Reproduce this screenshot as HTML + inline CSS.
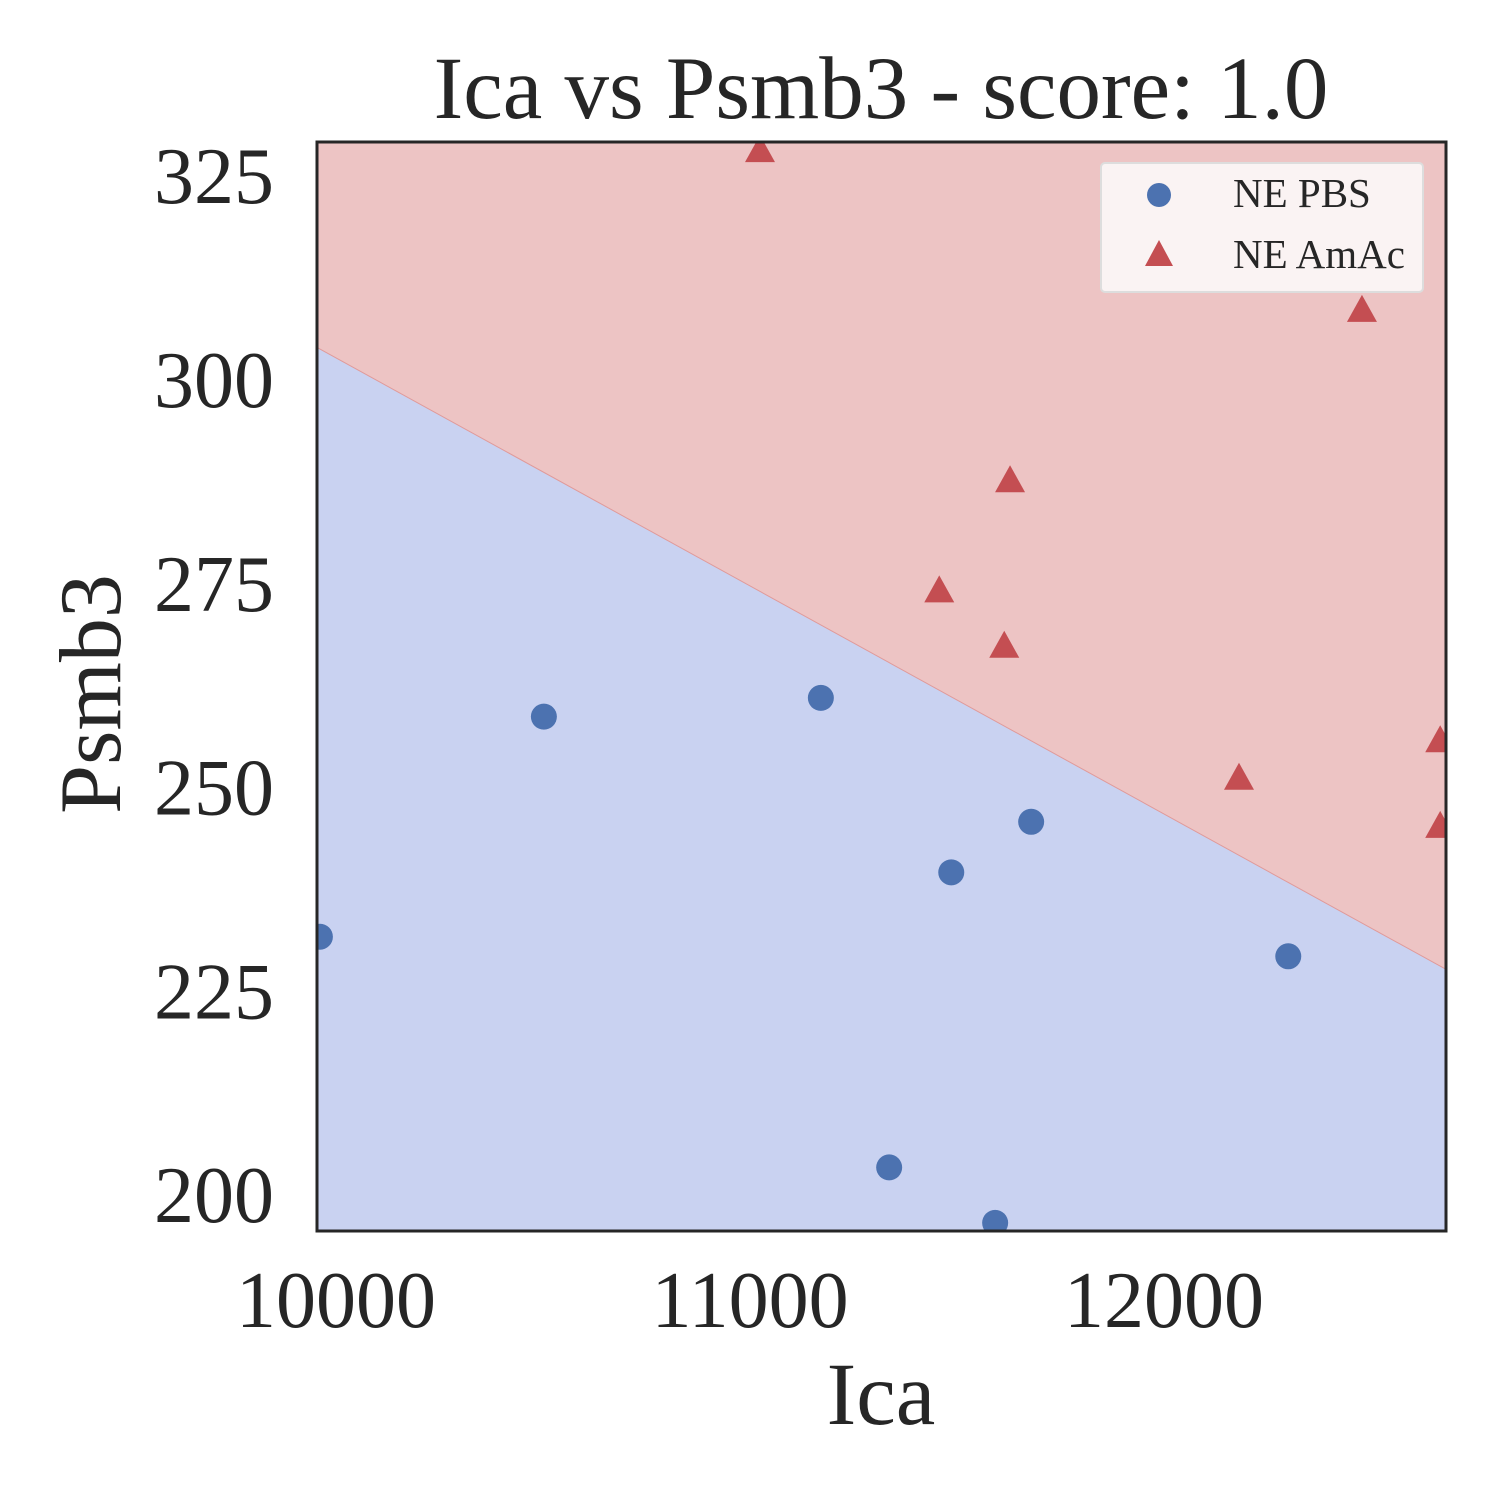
<!DOCTYPE html>
<html><head><meta charset="utf-8"><style>
html,body{margin:0;padding:0;background:#fff;}
svg{display:block;font-family:"Liberation Serif",serif;}
</style></head><body>
<svg id="chart" width="1500" height="1500" viewBox="0 0 1500 1500">
<text x="881" y="118" font-size="89" text-anchor="middle" fill="#262626">Ica vs Psmb3 - score: 1.0</text>
<g id="plot"></g>
<text x="881" y="1424" font-size="89" text-anchor="middle" fill="#262626">Ica</text>
<text transform="translate(120,694) rotate(-90)" font-size="88" text-anchor="middle" fill="#262626">Psmb3</text>
<g>
<rect x="1101" y="163" width="322" height="129" rx="4" fill="#faf3f3" stroke="#dddddd" stroke-width="2"/>
<circle cx="1159" cy="195" r="12" fill="#4c72b0"/>
<text x="1233" y="207" font-size="41" fill="#262626">NE PBS</text>
<path d="M1159,240 L1173,266 L1145,266 Z" fill="#c44e52"/>
<text x="1233" y="268" font-size="41" fill="#262626">NE AmAc</text>
</g>
</svg>
<script>
const pbsX=[9961,10502,11171,11336,11486,11679,11592,12300];
const pbsY=[231.7,258.7,261.0,203.4,239.6,245.8,196.6,229.3];
const amacX=[11024,12478,11628,11457,11614,12181,12667,12667];
const amacY=[328.2,308.6,287.7,274.2,267.4,251.2,255.8,245.3];
const boundaryX=[9954,12681];
const boundaryY=[304.0,227.7];
const xTicks=[10000,11000,12000];
const yTicks=[200,225,250,275,300,325];
const X0=317,X1=1446,Y0=142,Y1=1231;
const xmin=9954,xmax=12681,ymin=195.6,ymax=329.2;
const sx=v=>X0+(v-xmin)/(xmax-xmin)*(X1-X0);
const sy=v=>Y1-(v-ymin)/(ymax-ymin)*(Y1-Y0);
const NS="http://www.w3.org/2000/svg";
const svg=document.getElementById('chart');
const g=document.getElementById('plot');
function mk(t,a,p){const e=document.createElementNS(NS,t);for(const k in a)e.setAttribute(k,a[k]);(p||g).appendChild(e);return e;}
const clip=mk('clipPath',{id:'cp'});mk('rect',{x:X0,y:Y0,width:X1-X0,height:Y1-Y0},clip);
const bg=mk('rect',{x:X0,y:Y0,width:X1-X0,height:Y1-Y0,fill:'#c9d2f1'});


const lx1=sx(boundaryX[0]),ly1=sy(boundaryY[0]),lx2=sx(boundaryX[1]),ly2=sy(boundaryY[1]);
const reg=mk('path',{d:`M${lx1},${ly1} L${lx2},${ly2} L${X1},${Y0} L${X0},${Y0} Z`,fill:'#edc4c4','clip-path':'url(#cp)'});


const ln=mk('line',{x1:lx1,y1:ly1,x2:lx2,y2:ly2,stroke:'#e09a9a','stroke-width':1});


const pg=mk('g',{'clip-path':'url(#cp)'});
pbsX.forEach((x,i)=>{const c=mk('circle',{cx:sx(x),cy:sy(pbsY[i]),r:13,fill:'#4c72b0'},pg);

});
amacX.forEach((x,i)=>{const cx=sx(x),cy=sy(amacY[i]);const t=mk('path',{d:`M${cx},${cy-15} L${cx+15},${cy+12} L${cx-15},${cy+12} Z`,fill:'#c44e52'},pg);

});
const fr=mk('rect',{x:X0,y:Y0,width:X1-X0,height:Y1-Y0,fill:'none',stroke:'#262626','stroke-width':3});


xTicks.forEach(v=>{const t=mk('text',{x:sx(v),y:1327,'font-size':80,'text-anchor':'middle',fill:'#262626'},svg);t.textContent=v;

});
yTicks.forEach(v=>{const t=mk('text',{x:274,y:sy(v)+27,'font-size':80,'text-anchor':'end',fill:'#262626'},svg);t.textContent=v;

});
</script>
</body></html>
